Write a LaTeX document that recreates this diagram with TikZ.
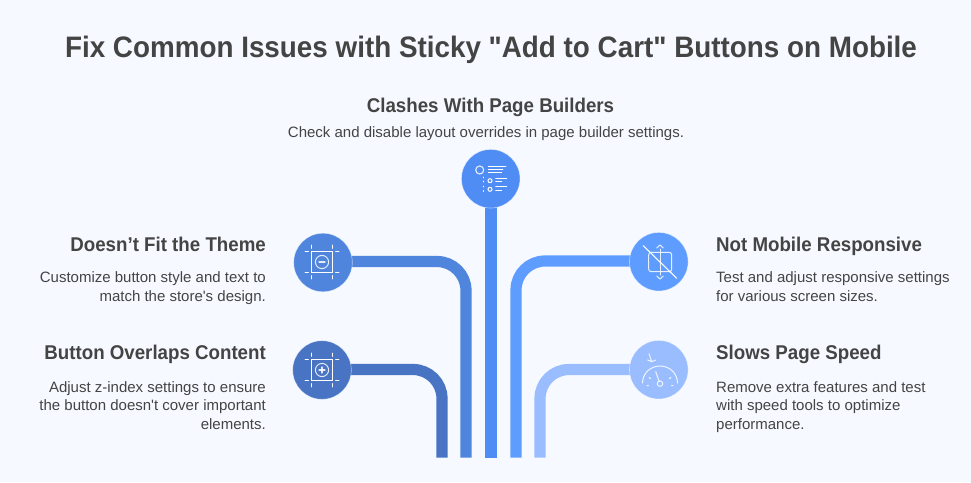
\documentclass[tikz,border=0pt]{standalone}
\usepackage{fontspec}
\setmainfont{Liberation Sans}
\newfontfamily\headfont[FakeStretch=0.94]{Liberation Sans}
\newfontfamily\bodyfont{Liberation Sans}
\newcommand{\dq}{\symbol{34}}
\definecolor{bgc}{HTML}{F6F9FF}
\definecolor{ink}{HTML}{444444}
\definecolor{cl}{HTML}{4F85DC}
\definecolor{cll}{HTML}{4874C3}
\definecolor{cc}{HTML}{4F8DF5}
\definecolor{cr}{HTML}{5E9DFF}
\definecolor{crr}{HTML}{99BDFF}
\tikzset{
  x=1pt,y=-1pt,
  hub/.style={circle,minimum size=58.6pt,inner sep=0pt,draw=white,draw opacity=.55,line width=.6pt},
  link/.style={line width=11.2pt,rounded corners=29pt},
  head/.style={font=\headfont\fontsize{19.9}{23}\selectfont\bfseries,text=ink,inner sep=0pt},
  body/.style={font=\bodyfont\fontsize{15}{18.8}\selectfont,text=ink,inner sep=0pt},
  ttl/.style={font=\headfont\fontsize{29.6}{34}\selectfont\bfseries,text=ink,inner sep=0pt},
  ico/.style={draw=white,line width=1pt,line cap=round},
  ico2/.style={draw=white,draw opacity=.85,line width=1pt,line cap=round}
}
\newcommand{\cropicon}[2]{%
  \begin{scope}[shift={(#1)}]
    \draw[draw=white,line width=1pt] (-10.7,-10.7) rectangle (10.7,10.7);
    \foreach \sx/\sy in {-1/-1,1/-1,-1/1,1/1}{
      \draw[ico,line width=.7pt] (\sx*13.5,\sy*10.7) -- (\sx*17,\sy*10.7);
      \draw[ico,line width=.7pt] (\sx*10.7,\sy*13.5) -- (\sx*10.7,\sy*17);
    }
    \draw[ico2] (0,0) circle (6.6);
    \draw[ico2,line width=1.3pt] (-3,0) -- (3,0);
    #2
  \end{scope}}
\begin{document}
\begin{tikzpicture}
\useasboundingbox[fill=bgc] (0,0) rectangle (971,482);
\node[ttl,anchor=base] (title) at (491,57) {Fix Common Issues with Sticky \dq Add to Cart\dq{} Buttons on Mobile};
\node[head,anchor=base] (hc) at (490.5,112.5) {Clashes With Page Builders};
\node[body,anchor=base] (bc) at (486,137) {Check and disable layout overrides in page builder settings.};

\coordinate (b1) at (442,457.5);
\coordinate (b2) at (466,457.5);
\coordinate (b3) at (491,457.5);
\coordinate (b4) at (516,457.5);
\coordinate (b5) at (540,457.5);
\coordinate (sl1) at (340,261.5);
\coordinate (sl2) at (340,369.5);
\coordinate (sr1) at (640,261);
\coordinate (sr2) at (640,369.5);
\coordinate (st) at (491,190);

\draw[link,draw=cll] (sl2) -| (b1);
\draw[link,draw=cl] (sl1) -| (b2);
\draw[link,draw=cc] (st) -- (b3);
\draw[link,draw=cr] (sr1) -| (b4);
\draw[link,draw=crr] (sr2) -| (b5);

\node[hub,fill=cc] (nc) at (490.7,178.7) {};
\node[hub,fill=cl] (nl1) at (323,262.5) {};
\node[hub,fill=cll] (nl2) at (322,370) {};
\node[hub,fill=cr] (nr1) at (658.8,261.7) {};
\node[hub,fill=crr] (nr2) at (658.8,369.7) {};

% centre list icon
\draw[ico2,line width=1.1pt] (479.7,170) circle (4);
\draw[ico,line width=.9pt] (488.3,166) -- (506,166) (488.3,169.3) -- (503,169.3) (488.3,172.3) -- (501.7,172.3);
\draw[ico,line width=.9pt] (495.7,178.3) -- (506.7,178.3) (495.7,181.7) -- (501.7,181.7) (495.7,186.7) -- (506.7,186.7) (495.7,190) -- (501.7,190);
\draw[ico,line width=1pt] (490,180.7) circle (2) (490,189.3) circle (2);
\draw[ico,line width=.8pt] (483.3,177) -- (483.3,178) (483.3,181) -- (483.3,182) (483.3,186) -- (483.3,187) (483.3,190.5) -- (483.3,191.5);

\cropicon{322,262}{}
\cropicon{322,370}{\draw[ico2,line width=1.3pt] (0,-3) -- (0,3);}

% no-mobile icon
\begin{scope}[shift={(660,262)}]
  \draw[ico2,rounded corners=2.5pt] (-11.3,-9.7) rectangle (11.7,9.7);
  \draw[ico2] (0,-13) -- (0,13);
  \draw[ico2] (-3.3,-14) -- (0,-17) -- (3.3,-14);
  \draw[ico2] (-3.3,14) -- (0,17) -- (3.3,14);
  \draw[ico,line width=1.1pt] (-16.7,-16.3) -- (16.7,16.3);
\end{scope}

% gauge icon
\begin{scope}[shift={(660,370)}]
  \draw[ico2] (-17.5,13) .. controls (-17.5,3.5) and (-9.7,-4) .. (0,-4) .. controls (9.7,-4) and (17.5,3.5) .. (17.5,13);
  \draw[ico2] (-1,11) -- (-4.3,1.7);
  \draw[ico2] (0,13.7) circle (2.7);
  \draw[ico2] (-11,7.5) -- (-9.5,8.5) (9.5,8.5) -- (11,7.5) (-13,15.7) -- (-11.5,15.7) (11.5,15.7) -- (13,15.7);
  \draw[ico2] (-11,-16.3) -- (-8.3,-8.3) (-12.3,-10) -- (-8.3,-8.3) -- (-4.3,-10);
\end{scope}

\node[head,anchor=base east] (hl1) at (266,251) {Doesn’t Fit the Theme};
\node[body,anchor=north east,align=right] (tl1) at (266,271.5) {Customize button style and text to\\match the store's design.};
\node[head,anchor=base east] (hl2) at (266,359) {Button Overlaps Content};
\node[body,anchor=north east,align=right] (tl2) at (266,381) {Adjust z-index settings to ensure\\the button doesn't cover important\\elements.};
\node[head,anchor=base west] (hr1) at (716,251) {Not Mobile Responsive};
\node[body,anchor=north west,align=left] (tr1) at (716,271.5) {Test and adjust responsive settings\\for various screen sizes.};
\node[head,anchor=base west] (hr2) at (716,359) {Slows Page Speed};
\node[body,anchor=north west,align=left] (tr2) at (716,381) {Remove extra features and test\\with speed tools to optimize\\performance.};
\end{tikzpicture}
\end{document}
